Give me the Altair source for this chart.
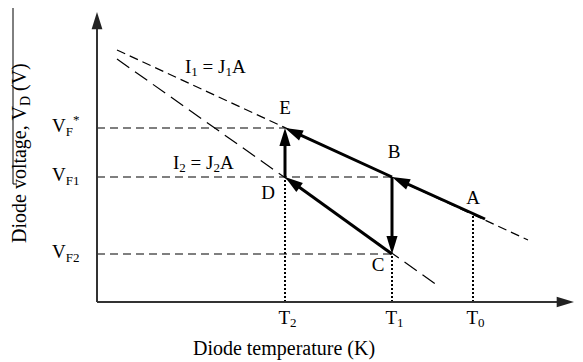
import math
import altair as alt
import pandas as pd

# ---------------- data (schematic units: origin at axis corner) ----------------
T_ticks = [188, 295, 376]          # T2, T1, T0
T_subs = ["2", "1", "0"]
V_levels = [174, 125, 48]          # VF*, VF1, VF2
V_subs = ["F", "F1", "F2"]
V_sups = ["*", "", ""]
guide_h_end = [188, 295, 295]      # horizontal dashed guides end at E, B, C
guide_v_top = [125, 48, 88]        # vertical dotted guides end at D, C, line 1

pt_names = ["A", "B", "C", "D", "E"]
pt_x = [388, 295, 295, 188, 188]
pt_y = [83, 125, 48, 125, 174]
lab_x = [376, 297, 281, 171, 188]
lab_y = [104, 150, 37, 109, 194]

arrow_from = ["A", "B", "B", "C", "D"]
arrow_to = ["B", "E", "C", "D", "E"]

iso1_x = [20, 431]
iso1_y = [252, 62]
iso2_x = [20, 340]
iso2_y = [243, 17]
iso_labels = [("1", 88, 235), ("2", 76, 139)]

axis_x_tip = 477
axis_y_tip = 290

# ---------------- helpers ----------------
W = {' ': 250, '*': 500, '=': 564, '0': 500, '1': 500, '2': 500, 'A': 722,
     'F': 556, 'I': 333, 'J': 389, 'T': 611, 'V': 722, 'D': 722,
     '(': 333, ')': 333}
MAIN, SUB = 19, 13


def wid(s, fs):
    return sum(W.get(c, 500) for c in s) / 1000 * fs


XS = alt.Scale(domain=[-89, 478], nice=False, zero=False)
YS = alt.Scale(domain=[-60, 294], nice=False, zero=False)


def X(f):
    return alt.X(f, type="quantitative", scale=XS, axis=None)


def Y(f):
    return alt.Y(f, type="quantitative", scale=YS, axis=None)


# ---------------- build tables ----------------
pts = {n: (x, y) for n, x, y in zip(pt_names, pt_x, pt_y)}
arr_rows, head_rows = [], []
for a, b in zip(arrow_from, arrow_to):
    (x0, y0), (x1, y1) = pts[a], pts[b]
    dx, dy = x1 - x0, y1 - y0
    L = math.hypot(dx, dy)
    ux, uy = dx / L, dy / L
    arr_rows.append({"x": x0, "y": y0, "x2": x1 - ux * 10, "y2": y1 - uy * 10})
    head_rows.append({"x": x1, "y": y1, "angle": math.degrees(math.atan2(dx, dy)) % 360})
arr_df = pd.DataFrame(arr_rows)
head_df = pd.DataFrame(head_rows)

axes_df = pd.DataFrame({"x": [0, 0], "y": [0, 0], "x2": [0, axis_x_tip - 10], "y2": [axis_y_tip - 10, 0]})
axhead_df = pd.DataFrame({"x": [0, axis_x_tip], "y": [axis_y_tip, 0], "angle": [0, 90]})

gh_df = pd.DataFrame({"level": V_levels, "xe": guide_h_end, "x0": [0] * 3})
gv_df = pd.DataFrame({"t": T_ticks, "ye": guide_v_top, "y0": [0] * 3})
iso1_df = pd.DataFrame({"x": iso1_x, "y": iso1_y})
iso2_df = pd.DataFrame({"x": iso2_x, "y": iso2_y})

main_rows, sub_rows = [], []
# iso-current labels  I_n = J_n A
for n, sx, yc in iso_labels:
    cx = sx
    for seg, kind in [("I", "m"), (n, "s"), (" ", "m"), ("=", "m"), (" ", "m"),
                      ("J", "m"), (n, "s"), ("A", "m")]:
        if kind == "m":
            if seg.strip():
                main_rows.append({"x": cx, "y": yc, "t": seg})
            cx += wid(seg, MAIN)
        else:
            sub_rows.append({"x": cx, "y": yc - 5, "t": seg})
            cx += wid(seg, SUB)
# tick labels T_n
for t, s in zip(T_ticks, T_subs):
    sx = t - 6.5
    main_rows.append({"x": sx, "y": -15.5, "t": "T"})
    sub_rows.append({"x": sx + wid("T", MAIN), "y": -21, "t": s})
# voltage labels V_F..
sup_rows = []
for v, s, sp in zip(V_levels, V_subs, V_sups):
    sx = -45
    main_rows.append({"x": sx, "y": v + 2, "t": "V"})
    sub_rows.append({"x": sx + wid("V", MAIN), "y": v - 4, "t": s})
    if sp:
        sup_rows.append({"x": sx + wid("V", MAIN) + wid(s, SUB), "y": v + 8, "t": sp})
main_df = pd.DataFrame(main_rows)
sub_df = pd.DataFrame(sub_rows)
sup_df = pd.DataFrame(sup_rows)

ptlab_df = pd.DataFrame({"x": lab_x, "y": lab_y, "t": pt_names})

# y-axis title, rotated, composed of segments
ytm_df = pd.DataFrame({"x": [-71, -71], "y": [59, 59 + 137 + 10 + 5], "t": ["Diode voltage, V", "(V)"]})
yts_df = pd.DataFrame({"x": [-67], "y": [59 + 137], "t": ["D"]})
xt_df = pd.DataFrame({"x": [187], "y": [-53], "t": ["Diode temperature (K)"]})
overline_df = pd.DataFrame({"x": [-84, -84], "y": [294, 118], "x2": [-84, -80], "y2": [118, 118]})

FONT = "Liberation Serif"
HEAD = "M0,0L-0.62,2L0.62,2Z"

# ---------------- layers ----------------
iso1 = alt.Chart(iso1_df).mark_line(color="black", strokeWidth=1.2, strokeDash=[9, 5]).encode(X("x"), Y("y"))
iso2 = alt.Chart(iso2_df).mark_line(color="black", strokeWidth=1.2, strokeDash=[15, 7]).encode(X("x"), Y("y"))
gh = alt.Chart(gh_df).mark_rule(color="black", strokeWidth=1.2, strokeDash=[8, 5]).encode(
    X("x0"), alt.X2("xe"), Y("level"))
gv = alt.Chart(gv_df).mark_rule(color="black", strokeWidth=2, strokeDash=[2, 2]).encode(
    X("t"), Y("y0"), alt.Y2("ye"))
axes = alt.Chart(axes_df).mark_rule(color="#333333", strokeWidth=2).encode(
    X("x"), Y("y"), alt.X2("x2"), alt.Y2("y2"))
axheads = alt.Chart(axhead_df).mark_point(shape=HEAD, filled=True, size=300, color="#222222",
                                          opacity=1, strokeWidth=0).encode(
    X("x"), Y("y"), angle=alt.Angle("angle:Q", scale=None))
arrows = alt.Chart(arr_df).mark_rule(color="black", strokeWidth=3).encode(
    X("x"), Y("y"), alt.X2("x2"), alt.Y2("y2"))
heads = alt.Chart(head_df).mark_point(shape=HEAD, filled=True, size=324, color="black",
                                      opacity=1, strokeWidth=0).encode(
    X("x"), Y("y"), angle=alt.Angle("angle:Q", scale=None))
overline = alt.Chart(overline_df).mark_rule(color="black", strokeWidth=1).encode(
    X("x"), Y("y"), alt.X2("x2"), alt.Y2("y2"))


def txt(df, size, **kw):
    return alt.Chart(df).mark_text(font=FONT, fontSize=size, color="black", **kw).encode(
        X("x"), Y("y"), text="t:N")


t_main = txt(main_df, MAIN, align="left", baseline="middle")
t_sub = txt(sub_df, SUB, align="left", baseline="middle")
t_sup = txt(sup_df, SUB, align="left", baseline="middle")
t_pts = txt(ptlab_df, MAIN, align="center", baseline="middle")
t_ytm = txt(ytm_df, 20, align="left", baseline="alphabetic", angle=270)
t_yts = txt(yts_df, 14, align="left", baseline="alphabetic", angle=270)
t_xt = txt(xt_df, 20, align="center", baseline="alphabetic")

chart = alt.layer(
    iso1, iso2, gh, gv, axes, axheads, arrows, heads, overline,
    t_main, t_sub, t_sup, t_pts, t_ytm, t_yts, t_xt
).properties(
    width=567, height=354, padding=0, autosize=alt.AutoSizeParams(type="none"),
    background="white"
).configure_view(stroke=None)

chart.save("out.html", embed_options={"renderer": "svg", "actions": False})
